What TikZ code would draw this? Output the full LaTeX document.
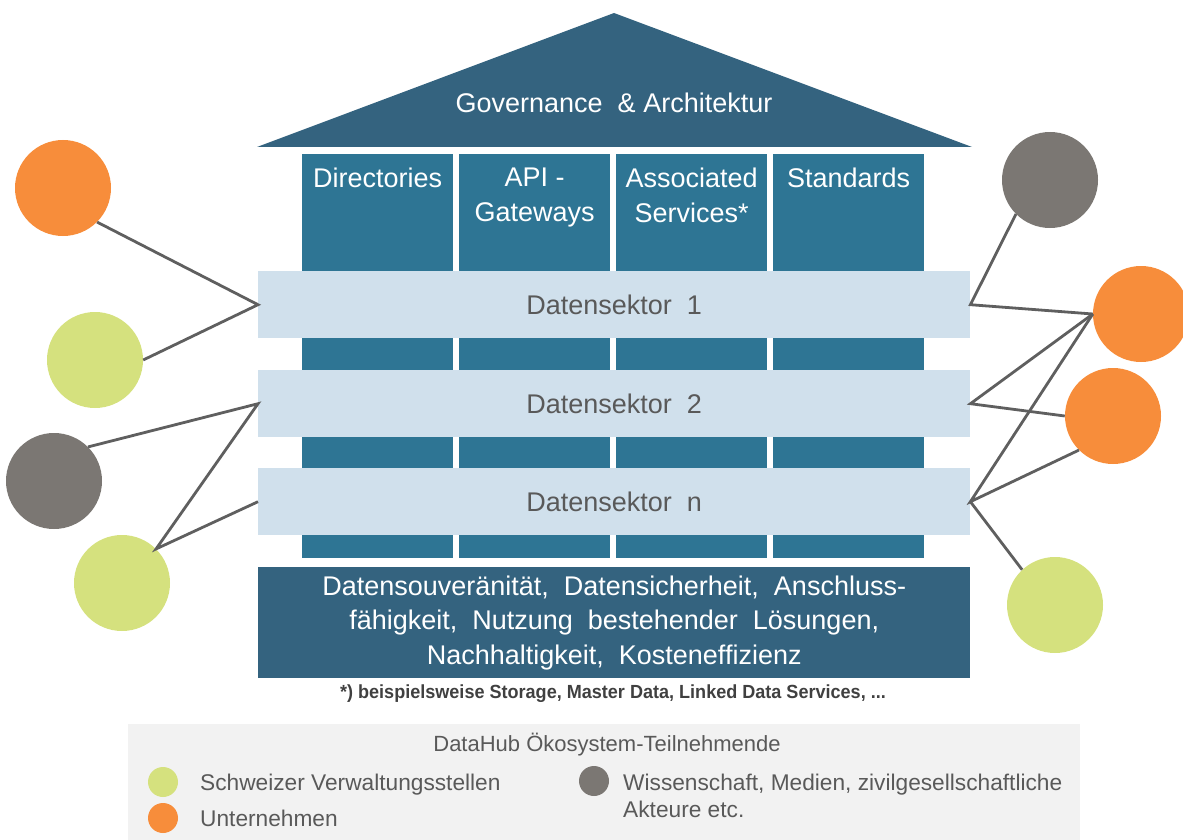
\documentclass[tikz,border=0pt]{standalone}
\usepackage{fontspec}
\setmainfont{Liberation Sans}
\newfontfamily\narrowfont[FakeStretch=0.95]{Liberation Sans}
\definecolor{roofc}{HTML}{34637F}
\definecolor{pillarc}{HTML}{2E7594}
\definecolor{bandc}{HTML}{D0E0EC}
\definecolor{txtgray}{HTML}{595959}
\definecolor{orangec}{HTML}{F78D3B}
\definecolor{greenc}{HTML}{D5E17E}
\definecolor{grayc}{HTML}{7B7773}
\definecolor{linec}{HTML}{5F5F5F}
\definecolor{legendbg}{HTML}{F2F2F2}
\definecolor{notec}{HTML}{404040}
\begin{document}
\begin{tikzpicture}[x=1pt,y=-1pt,
  bigfont/.style={font=\fontsize{27}{34.5}\selectfont},
  pillar/.style={fill=pillarc, draw=none, minimum width=151pt, minimum height=404pt, inner sep=0pt, anchor=north west},
  pillartext/.style={bigfont, text=white, align=center, inner sep=0pt, anchor=north},
  band/.style={fill=bandc, draw=none, minimum width=712pt, minimum height=67pt, inner sep=0pt, anchor=north west, bigfont, text=txtgray},
  actor/.style={circle, minimum size=96pt, inner sep=0pt, draw=none},
  conn/.style={draw=linec, line width=2.8pt, line join=miter},
  dot/.style={circle, minimum size=30pt, inner sep=0pt, draw=none},
  legtext/.style={font=\fontsize{22.7}{27}\selectfont, text=txtgray, inner sep=0pt},
]
\useasboundingbox (0,0) rectangle (1183,840);
% roof
\fill[roofc] (257,147) -- (614,13) -- (972,147) -- cycle;
\node[bigfont, text=white, inner sep=0pt] (roof) at (614,103) {Governance \ \& Architektur};
% pillars
\node[pillar] (p1) at (302,154) {};
\node[pillar] (p2) at (459,154) {};
\node[pillar] (p3) at (616,154) {};
\node[pillar] (p4) at (773,154) {};
\node[pillartext] (t1) at (p1.north |- 0,168) {Directories};
\node[pillartext] (t2) at (p2.north |- 0,168) {API -\\Gateways};
\node[pillartext] (t3) at (p3.north |- 0,168) {Associated\\Services*};
\node[pillartext] (t4) at (p4.north |- 0,168) {Standards};
% bands
\node[band] (b1) at (258,271) {Datensektor \ 1};
\node[band] (b2) at (258,370) {Datensektor \ 2};
\node[band] (b3) at (258,468) {Datensektor \ n};
% base
\node[fill=roofc, minimum width=712pt, minimum height=111pt, inner sep=0pt, anchor=north west, bigfont, text=white, align=center] (base) at (258,567)
  {Datensouveränität, \ Datensicherheit, \ Anschluss-\\fähigkeit, \ Nutzung \ bestehender \ Lösungen,\\Nachhaltigkeit, \ Kosteneffizienz};
\node[font=\narrowfont\bfseries\fontsize{19}{22}\selectfont, text=notec, inner sep=0pt, anchor=base] (note) at (613,698)
  {*) beispielsweise Storage, Master Data, Linked Data Services, ...};
% actors left
\node[actor, fill=orangec] (lo1) at (63,188) {};
\node[actor, fill=greenc] (lg1) at (95,360) {};
\node[actor, fill=grayc] (lgr) at (54,481) {};
\node[actor, fill=greenc] (lg2) at (122,583) {};
% actors right
\node[actor, fill=grayc] (rgr) at (1050,180) {};
\node[actor, fill=orangec] (ro1) at (1141,314) {};
\node[actor, fill=orangec] (ro2) at (1113,416) {};
\node[actor, fill=greenc] (rg) at (1055,605) {};
% connectors left
\draw[conn] (lo1.-45) -- (b1.west) -- (lg1.east);
\draw[conn] (lgr.45) -- (b2.west) -- (lg2.45) -- (b3.west);
% connectors right
\draw[conn] (rgr.225) -- (b1.east) -- (ro1.west);
\draw[conn] (ro1.west) -- (b2.east) -- (ro2.west);
\draw[conn] (ro1.west) -- (b3.east) -- (ro2.225);
\draw[conn] (b3.east) -- (rg.133);
% legend
\node[fill=legendbg, minimum width=952pt, minimum height=116pt, inner sep=0pt, anchor=north west] (legend) at (128,724) {};
\node[legtext, font=\fontsize{22}{26}\selectfont, anchor=base] (legtitle) at (607,751) {DataHub Ökosystem-Teilnehmende};
\node[dot, fill=greenc] (d1) at (163,782) {};
\node[dot, fill=orangec] (d2) at (163,818) {};
\node[dot, fill=grayc] (d3) at (594,781) {};
\node[legtext, anchor=base west] (l1) at (200,790) {Schweizer Verwaltungsstellen};
\node[legtext, anchor=base west] (l2) at (200,826) {Unternehmen};
\node[legtext, anchor=base west] (l3) at (623,790) {Wissenschaft, Medien, zivilgesellschaftliche};
\node[legtext, anchor=base west] (l4) at (623,817) {Akteure etc.};
\end{tikzpicture}
\end{document}
